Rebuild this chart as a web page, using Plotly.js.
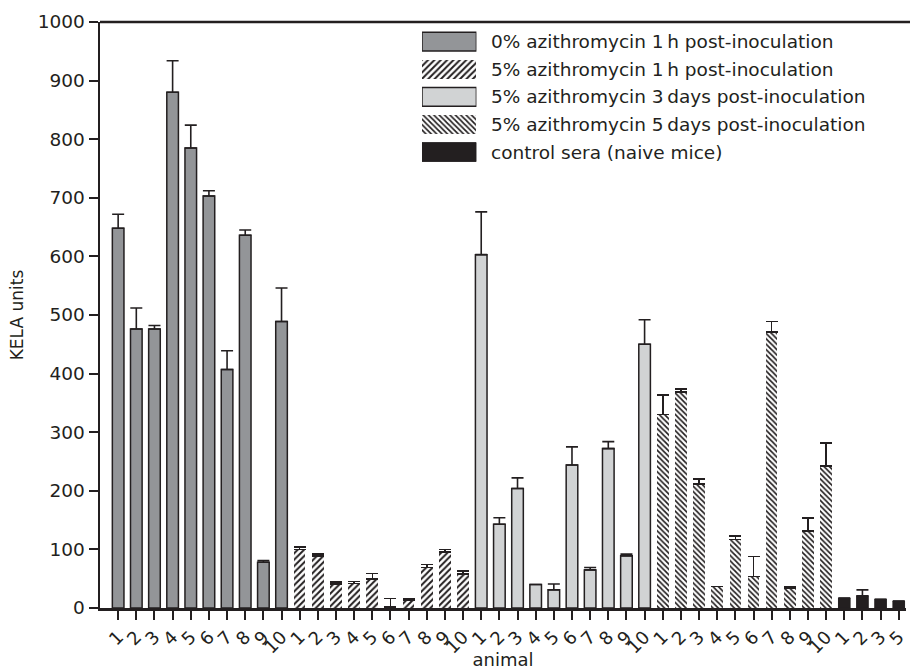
<!DOCTYPE html>
<html>
<head>
<meta charset="utf-8">
<script src="https://cdn.plot.ly/plotly-3.0.1.min.js"></script>
<style>html,body{margin:0;padding:0;background:#fff;}#chart{width:910px;height:670px;}</style>
</head>
<body>
<div id="chart"></div>
<script>
// ---- data ----
var seriesNames = [
  "0% azithromycin 1\u2009h post-inoculation",
  "5% azithromycin 1\u2009h post-inoculation",
  "5% azithromycin 3\u2009days post-inoculation",
  "5% azithromycin 5\u2009days post-inoculation",
  "control sera (naive mice)"
];
var labels1 = ["1","2","3","4","5","6","7","8","9","10"];
var labels2 = ["1","2","3","4","5","6","7","8","9","10"];
var labels3 = ["1","2","3","4","5","6","7","8","9","10"];
var labels4 = ["1","2","3","4","5","6","7","8","9","10"];
var labels5 = ["1","2","3","5"];

var vals1 = [648, 476, 476, 880, 785, 703, 407, 636, 78, 489];
var errs1 = [24, 36, 6, 54, 39, 9, 32, 9, 3, 57];
var vals2 = [100, 89, 41, 42, 50, 2, 14, 69, 96, 58];
var errs2 = [4, 3, 3, 3, 9, 14, 1, 5, 4, 5];
var vals3 = [603, 143, 204, 40, 31, 244, 65, 272, 89, 450];
var errs3 = [73, 11, 18, 0, 10, 31, 4, 12, 3, 42];
var vals4 = [330, 369, 212, 37, 117, 54, 471, 33, 131, 242];
var errs4 = [33, 5, 8, 0, 6, 34, 18, 3, 23, 40];
var vals5 = [17, 21, 15, 12];
var errs5 = [0, 10, 0, 0];

// ---- build ----
var groups = [
  {labels: labels1, vals: vals1, errs: errs1},
  {labels: labels2, vals: vals2, errs: errs2},
  {labels: labels3, vals: vals3, errs: errs3},
  {labels: labels4, vals: vals4, errs: errs4},
  {labels: labels5, vals: vals5, errs: errs5}
];
var dark = "#231f20";
var styles = [
  {color: "#939598", line: 1.5, pattern: null},
  {color: "#ffffff", line: 0, pattern: {shape: "/", fgcolor: dark, bgcolor: "#ffffff", size: 4.5, solidity: 0.45}},
  {color: "#d1d3d4", line: 1.5, pattern: null},
  {color: "#ffffff", line: 0, pattern: {shape: "\\", fgcolor: dark, bgcolor: "#ffffff", size: 3.8, solidity: 0.45}},
  {color: dark, line: 1, pattern: null}
];

var traces = [];
var tickvals = [], ticktext = [];
var pos = 0;
groups.forEach(function (g, gi) {
  var xs = [];
  g.labels.forEach(function (lab) { xs.push(pos); tickvals.push(pos); ticktext.push(lab); pos++; });
  var st = styles[gi];
  var marker = {color: st.color, line: {color: dark, width: st.line}};
  if (st.pattern) marker.pattern = st.pattern;
  traces.push({
    type: "bar", x: xs, y: g.vals, width: 0.64, marker: marker,
    name: seriesNames[gi], showlegend: false, hoverinfo: "x+y",
    error_y: {type: "data", symmetric: false, array: g.errs, arrayminus: g.errs.map(function(){return 0;}),
              color: dark, thickness: 1.6, width: 6}
  });
});

// legend swatches drawn as horizontal bars on a small auxiliary axis
var legIdx = [0, 1, 2, 3, 4];
legIdx.forEach(function (i) {
  var st = styles[i];
  var marker = {color: st.color, line: {color: dark, width: st.line}};
  if (st.pattern) marker.pattern = st.pattern;
  traces.push({
    type: "bar", orientation: "h", x: [1], y: [i], width: 0.68,
    xaxis: "x2", yaxis: "y2", marker: marker, showlegend: false, hoverinfo: "skip"
  });
});

var fontFam = "DejaVu Sans, Open Sans, sans-serif";
var annotations = seriesNames.map(function (n, i) {
  return {text: n, xref: "paper", x: 0.4826, xanchor: "left", yref: "y2", y: i, yanchor: "middle",
          showarrow: false, font: {family: fontFam, size: 18.5, color: dark}};
});

var layout = {
  width: 910, height: 670,
  margin: {l: 100, r: 4, t: 22, b: 62},
  paper_bgcolor: "#ffffff", plot_bgcolor: "#ffffff",
  font: {family: fontFam, color: dark},
  bargap: 0,
  xaxis: {
    range: [-1, 43.4], tickmode: "array", tickvals: tickvals, ticktext: ticktext,
    tickangle: -45, ticks: "outside", ticklen: 9, tickwidth: 2, tickcolor: dark,
    showline: true, linecolor: dark, linewidth: 2.5, showgrid: false, zeroline: false,
    tickfont: {family: fontFam, size: 18, color: dark},
    title: {text: "animal", font: {family: fontFam, size: 18, color: dark}, standoff: 2}
  },
  yaxis: {
    range: [0, 1000], tickvals: [0,100,200,300,400,500,600,700,800,900,1000],
    ticks: "outside", ticklen: 9, tickwidth: 2, tickcolor: dark,
    showline: true, linecolor: dark, linewidth: 2.5, showgrid: false, zeroline: false,
    tickfont: {family: fontFam, size: 18.5, color: dark},
    title: {text: "KELA units", font: {family: fontFam, size: 17, color: dark}, standoff: 10}
  },
  xaxis2: {domain: [0.3995, 0.467], range: [0, 1], visible: false, fixedrange: true},
  yaxis2: {domain: [0.7546, 0.9899], range: [4.5, -0.5], visible: false, fixedrange: true, anchor: "x2"},
  shapes: [
    {type: "line", xref: "paper", yref: "paper", x0: 0, x1: 1.01, y0: 1, y1: 1,
     line: {color: dark, width: 2.5}}
  ],
  annotations: annotations
};

Plotly.newPlot("chart", traces, layout, {displayModeBar: false, staticPlot: true});
</script>
</body>
</html>
